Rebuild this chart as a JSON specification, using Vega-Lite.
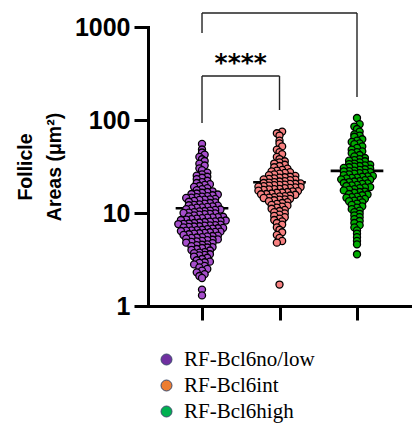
{
  "$schema": "https://vega.github.io/schema/vega-lite/v6.json",
  "autosize": {"type": "none"},
  "padding": {"left": 148, "top": 27, "right": 4, "bottom": 121},
  "width": 262,
  "height": 279,
  "background": "white",
  "datasets": {
    "areas": [
      {"group": "RF-Bcl6no/low", "area": 55.2}, {"group": "RF-Bcl6no/low", "area": 48.1}, {"group": "RF-Bcl6no/low", "area": 44.7},
      {"group": "RF-Bcl6no/low", "area": 42.3}, {"group": "RF-Bcl6no/low", "area": 40.1}, {"group": "RF-Bcl6no/low", "area": 37.8}, {"group": "RF-Bcl6no/low", "area": 36.2}, {"group": "RF-Bcl6no/low", "area": 33.9},
      {"group": "RF-Bcl6no/low", "area": 32.4}, {"group": "RF-Bcl6no/low", "area": 30.2}, {"group": "RF-Bcl6no/low", "area": 28.9}, {"group": "RF-Bcl6no/low", "area": 27.1}, {"group": "RF-Bcl6no/low", "area": 26.0}, {"group": "RF-Bcl6no/low", "area": 25.2},
      {"group": "RF-Bcl6no/low", "area": 24.5}, {"group": "RF-Bcl6no/low", "area": 23.9}, {"group": "RF-Bcl6no/low", "area": 23.1}, {"group": "RF-Bcl6no/low", "area": 22.2}, {"group": "RF-Bcl6no/low", "area": 21.5}, {"group": "RF-Bcl6no/low", "area": 21.0}, {"group": "RF-Bcl6no/low", "area": 20.4}, {"group": "RF-Bcl6no/low", "area": 20.0},
      {"group": "RF-Bcl6no/low", "area": 19.5}, {"group": "RF-Bcl6no/low", "area": 19.1}, {"group": "RF-Bcl6no/low", "area": 18.5}, {"group": "RF-Bcl6no/low", "area": 18.0}, {"group": "RF-Bcl6no/low", "area": 17.6}, {"group": "RF-Bcl6no/low", "area": 17.1}, {"group": "RF-Bcl6no/low", "area": 16.8}, {"group": "RF-Bcl6no/low", "area": 16.5}, {"group": "RF-Bcl6no/low", "area": 16.2}, {"group": "RF-Bcl6no/low", "area": 16.0},
      {"group": "RF-Bcl6no/low", "area": 15.8}, {"group": "RF-Bcl6no/low", "area": 15.5}, {"group": "RF-Bcl6no/low", "area": 15.2}, {"group": "RF-Bcl6no/low", "area": 15.0}, {"group": "RF-Bcl6no/low", "area": 14.8}, {"group": "RF-Bcl6no/low", "area": 14.6}, {"group": "RF-Bcl6no/low", "area": 14.5}, {"group": "RF-Bcl6no/low", "area": 14.2}, {"group": "RF-Bcl6no/low", "area": 14.0}, {"group": "RF-Bcl6no/low", "area": 13.9}, {"group": "RF-Bcl6no/low", "area": 13.8}, {"group": "RF-Bcl6no/low", "area": 13.5}, {"group": "RF-Bcl6no/low", "area": 13.2}, {"group": "RF-Bcl6no/low", "area": 13.0},
      {"group": "RF-Bcl6no/low", "area": 12.8}, {"group": "RF-Bcl6no/low", "area": 12.6}, {"group": "RF-Bcl6no/low", "area": 12.4}, {"group": "RF-Bcl6no/low", "area": 12.2}, {"group": "RF-Bcl6no/low", "area": 12.1}, {"group": "RF-Bcl6no/low", "area": 12.0}, {"group": "RF-Bcl6no/low", "area": 11.8}, {"group": "RF-Bcl6no/low", "area": 11.6}, {"group": "RF-Bcl6no/low", "area": 11.5}, {"group": "RF-Bcl6no/low", "area": 11.4}, {"group": "RF-Bcl6no/low", "area": 11.2}, {"group": "RF-Bcl6no/low", "area": 11.0}, {"group": "RF-Bcl6no/low", "area": 10.9}, {"group": "RF-Bcl6no/low", "area": 10.8}, {"group": "RF-Bcl6no/low", "area": 10.6}, {"group": "RF-Bcl6no/low", "area": 10.5},
      {"group": "RF-Bcl6no/low", "area": 10.4}, {"group": "RF-Bcl6no/low", "area": 10.2}, {"group": "RF-Bcl6no/low", "area": 10.1}, {"group": "RF-Bcl6no/low", "area": 10.0}, {"group": "RF-Bcl6no/low", "area": 9.9}, {"group": "RF-Bcl6no/low", "area": 9.8}, {"group": "RF-Bcl6no/low", "area": 9.7}, {"group": "RF-Bcl6no/low", "area": 9.6}, {"group": "RF-Bcl6no/low", "area": 9.4}, {"group": "RF-Bcl6no/low", "area": 9.2}, {"group": "RF-Bcl6no/low", "area": 9.1}, {"group": "RF-Bcl6no/low", "area": 9.0}, {"group": "RF-Bcl6no/low", "area": 8.95}, {"group": "RF-Bcl6no/low", "area": 8.9}, {"group": "RF-Bcl6no/low", "area": 8.8}, {"group": "RF-Bcl6no/low", "area": 8.7}, {"group": "RF-Bcl6no/low", "area": 8.6}, {"group": "RF-Bcl6no/low", "area": 8.5},
      {"group": "RF-Bcl6no/low", "area": 8.4}, {"group": "RF-Bcl6no/low", "area": 8.3}, {"group": "RF-Bcl6no/low", "area": 8.2}, {"group": "RF-Bcl6no/low", "area": 8.1}, {"group": "RF-Bcl6no/low", "area": 8.05}, {"group": "RF-Bcl6no/low", "area": 8.0}, {"group": "RF-Bcl6no/low", "area": 7.9}, {"group": "RF-Bcl6no/low", "area": 7.8}, {"group": "RF-Bcl6no/low", "area": 7.7}, {"group": "RF-Bcl6no/low", "area": 7.65}, {"group": "RF-Bcl6no/low", "area": 7.6}, {"group": "RF-Bcl6no/low", "area": 7.5}, {"group": "RF-Bcl6no/low", "area": 7.4}, {"group": "RF-Bcl6no/low", "area": 7.35}, {"group": "RF-Bcl6no/low", "area": 7.3}, {"group": "RF-Bcl6no/low", "area": 7.2}, {"group": "RF-Bcl6no/low", "area": 7.15}, {"group": "RF-Bcl6no/low", "area": 7.1}, {"group": "RF-Bcl6no/low", "area": 7.0},
      {"group": "RF-Bcl6no/low", "area": 6.9}, {"group": "RF-Bcl6no/low", "area": 6.85}, {"group": "RF-Bcl6no/low", "area": 6.8}, {"group": "RF-Bcl6no/low", "area": 6.7}, {"group": "RF-Bcl6no/low", "area": 6.6}, {"group": "RF-Bcl6no/low", "area": 6.55}, {"group": "RF-Bcl6no/low", "area": 6.5}, {"group": "RF-Bcl6no/low", "area": 6.45}, {"group": "RF-Bcl6no/low", "area": 6.4}, {"group": "RF-Bcl6no/low", "area": 6.3}, {"group": "RF-Bcl6no/low", "area": 6.25}, {"group": "RF-Bcl6no/low", "area": 6.2}, {"group": "RF-Bcl6no/low", "area": 6.1}, {"group": "RF-Bcl6no/low", "area": 6.05}, {"group": "RF-Bcl6no/low", "area": 6.0}, {"group": "RF-Bcl6no/low", "area": 5.9}, {"group": "RF-Bcl6no/low", "area": 5.8},
      {"group": "RF-Bcl6no/low", "area": 5.7}, {"group": "RF-Bcl6no/low", "area": 5.65}, {"group": "RF-Bcl6no/low", "area": 5.6}, {"group": "RF-Bcl6no/low", "area": 5.5}, {"group": "RF-Bcl6no/low", "area": 5.45}, {"group": "RF-Bcl6no/low", "area": 5.4}, {"group": "RF-Bcl6no/low", "area": 5.3}, {"group": "RF-Bcl6no/low", "area": 5.2}, {"group": "RF-Bcl6no/low", "area": 5.15}, {"group": "RF-Bcl6no/low", "area": 5.1}, {"group": "RF-Bcl6no/low", "area": 5.0}, {"group": "RF-Bcl6no/low", "area": 4.95}, {"group": "RF-Bcl6no/low", "area": 4.9}, {"group": "RF-Bcl6no/low", "area": 4.8},
      {"group": "RF-Bcl6no/low", "area": 4.75}, {"group": "RF-Bcl6no/low", "area": 4.6}, {"group": "RF-Bcl6no/low", "area": 4.55}, {"group": "RF-Bcl6no/low", "area": 4.5}, {"group": "RF-Bcl6no/low", "area": 4.4}, {"group": "RF-Bcl6no/low", "area": 4.3}, {"group": "RF-Bcl6no/low", "area": 4.25}, {"group": "RF-Bcl6no/low", "area": 4.2}, {"group": "RF-Bcl6no/low", "area": 4.1}, {"group": "RF-Bcl6no/low", "area": 4.0},
      {"group": "RF-Bcl6no/low", "area": 3.95}, {"group": "RF-Bcl6no/low", "area": 3.8}, {"group": "RF-Bcl6no/low", "area": 3.75}, {"group": "RF-Bcl6no/low", "area": 3.7}, {"group": "RF-Bcl6no/low", "area": 3.6}, {"group": "RF-Bcl6no/low", "area": 3.55}, {"group": "RF-Bcl6no/low", "area": 3.5}, {"group": "RF-Bcl6no/low", "area": 3.4}, {"group": "RF-Bcl6no/low", "area": 3.3},
      {"group": "RF-Bcl6no/low", "area": 3.2}, {"group": "RF-Bcl6no/low", "area": 3.1}, {"group": "RF-Bcl6no/low", "area": 3.0}, {"group": "RF-Bcl6no/low", "area": 2.95}, {"group": "RF-Bcl6no/low", "area": 2.9}, {"group": "RF-Bcl6no/low", "area": 2.8}, {"group": "RF-Bcl6no/low", "area": 2.7}, {"group": "RF-Bcl6no/low", "area": 2.6},
      {"group": "RF-Bcl6no/low", "area": 2.5}, {"group": "RF-Bcl6no/low", "area": 2.4}, {"group": "RF-Bcl6no/low", "area": 2.3}, {"group": "RF-Bcl6no/low", "area": 2.2}, {"group": "RF-Bcl6no/low", "area": 2.1}, {"group": "RF-Bcl6no/low", "area": 2.0},
      {"group": "RF-Bcl6no/low", "area": 1.5}, {"group": "RF-Bcl6no/low", "area": 1.3},

      {"group": "RF-Bcl6int", "area": 75.0}, {"group": "RF-Bcl6int", "area": 72.0}, {"group": "RF-Bcl6int", "area": 68.0}, {"group": "RF-Bcl6int", "area": 60.0}, {"group": "RF-Bcl6int", "area": 56.0}, {"group": "RF-Bcl6int", "area": 52.0},
      {"group": "RF-Bcl6int", "area": 48.0}, {"group": "RF-Bcl6int", "area": 45.0}, {"group": "RF-Bcl6int", "area": 43.0}, {"group": "RF-Bcl6int", "area": 40.0}, {"group": "RF-Bcl6int", "area": 38.0}, {"group": "RF-Bcl6int", "area": 36.0}, {"group": "RF-Bcl6int", "area": 35.0}, {"group": "RF-Bcl6int", "area": 34.0}, {"group": "RF-Bcl6int", "area": 33.0}, {"group": "RF-Bcl6int", "area": 32.0}, {"group": "RF-Bcl6int", "area": 31.0}, {"group": "RF-Bcl6int", "area": 30.0},
      {"group": "RF-Bcl6int", "area": 29.0}, {"group": "RF-Bcl6int", "area": 28.5}, {"group": "RF-Bcl6int", "area": 28.0}, {"group": "RF-Bcl6int", "area": 27.5}, {"group": "RF-Bcl6int", "area": 27.0}, {"group": "RF-Bcl6int", "area": 26.5}, {"group": "RF-Bcl6int", "area": 26.0}, {"group": "RF-Bcl6int", "area": 25.5}, {"group": "RF-Bcl6int", "area": 25.0}, {"group": "RF-Bcl6int", "area": 24.5}, {"group": "RF-Bcl6int", "area": 24.2}, {"group": "RF-Bcl6int", "area": 24.0}, {"group": "RF-Bcl6int", "area": 23.5}, {"group": "RF-Bcl6int", "area": 23.2}, {"group": "RF-Bcl6int", "area": 23.0}, {"group": "RF-Bcl6int", "area": 22.8}, {"group": "RF-Bcl6int", "area": 22.5},
      {"group": "RF-Bcl6int", "area": 22.0}, {"group": "RF-Bcl6int", "area": 21.8}, {"group": "RF-Bcl6int", "area": 21.5}, {"group": "RF-Bcl6int", "area": 21.2}, {"group": "RF-Bcl6int", "area": 21.0}, {"group": "RF-Bcl6int", "area": 20.8}, {"group": "RF-Bcl6int", "area": 20.6}, {"group": "RF-Bcl6int", "area": 20.5}, {"group": "RF-Bcl6int", "area": 20.2}, {"group": "RF-Bcl6int", "area": 20.0}, {"group": "RF-Bcl6int", "area": 19.9}, {"group": "RF-Bcl6int", "area": 19.7}, {"group": "RF-Bcl6int", "area": 19.4}, {"group": "RF-Bcl6int", "area": 19.2}, {"group": "RF-Bcl6int", "area": 19.0}, {"group": "RF-Bcl6int", "area": 18.8}, {"group": "RF-Bcl6int", "area": 18.6}, {"group": "RF-Bcl6int", "area": 18.5}, {"group": "RF-Bcl6int", "area": 18.2}, {"group": "RF-Bcl6int", "area": 18.0}, {"group": "RF-Bcl6int", "area": 17.9}, {"group": "RF-Bcl6int", "area": 17.7},
      {"group": "RF-Bcl6int", "area": 17.4}, {"group": "RF-Bcl6int", "area": 17.2}, {"group": "RF-Bcl6int", "area": 17.1}, {"group": "RF-Bcl6int", "area": 16.8}, {"group": "RF-Bcl6int", "area": 16.6}, {"group": "RF-Bcl6int", "area": 16.5}, {"group": "RF-Bcl6int", "area": 16.2}, {"group": "RF-Bcl6int", "area": 16.0}, {"group": "RF-Bcl6int", "area": 15.9}, {"group": "RF-Bcl6int", "area": 15.7}, {"group": "RF-Bcl6int", "area": 15.4}, {"group": "RF-Bcl6int", "area": 15.2}, {"group": "RF-Bcl6int", "area": 15.1}, {"group": "RF-Bcl6int", "area": 14.8}, {"group": "RF-Bcl6int", "area": 14.6}, {"group": "RF-Bcl6int", "area": 14.5}, {"group": "RF-Bcl6int", "area": 14.2}, {"group": "RF-Bcl6int", "area": 14.0}, {"group": "RF-Bcl6int", "area": 13.9}, {"group": "RF-Bcl6int", "area": 13.7},
      {"group": "RF-Bcl6int", "area": 13.4}, {"group": "RF-Bcl6int", "area": 13.1}, {"group": "RF-Bcl6int", "area": 12.8}, {"group": "RF-Bcl6int", "area": 12.5}, {"group": "RF-Bcl6int", "area": 12.2}, {"group": "RF-Bcl6int", "area": 12.0}, {"group": "RF-Bcl6int", "area": 11.7}, {"group": "RF-Bcl6int", "area": 11.4}, {"group": "RF-Bcl6int", "area": 11.1}, {"group": "RF-Bcl6int", "area": 10.8},
      {"group": "RF-Bcl6int", "area": 10.5}, {"group": "RF-Bcl6int", "area": 10.2}, {"group": "RF-Bcl6int", "area": 9.9}, {"group": "RF-Bcl6int", "area": 9.6}, {"group": "RF-Bcl6int", "area": 9.3}, {"group": "RF-Bcl6int", "area": 9.0}, {"group": "RF-Bcl6int", "area": 8.7}, {"group": "RF-Bcl6int", "area": 8.4}, {"group": "RF-Bcl6int", "area": 8.1}, {"group": "RF-Bcl6int", "area": 7.8},
      {"group": "RF-Bcl6int", "area": 7.5}, {"group": "RF-Bcl6int", "area": 7.0}, {"group": "RF-Bcl6int", "area": 6.6}, {"group": "RF-Bcl6int", "area": 6.2}, {"group": "RF-Bcl6int", "area": 5.8}, {"group": "RF-Bcl6int", "area": 5.4}, {"group": "RF-Bcl6int", "area": 5.0}, {"group": "RF-Bcl6int", "area": 4.8},
      {"group": "RF-Bcl6int", "area": 1.7},

      {"group": "RF-Bcl6high", "area": 105.0}, {"group": "RF-Bcl6high", "area": 90.0}, {"group": "RF-Bcl6high", "area": 85.0}, {"group": "RF-Bcl6high", "area": 80.0},
      {"group": "RF-Bcl6high", "area": 75.0}, {"group": "RF-Bcl6high", "area": 70.0}, {"group": "RF-Bcl6high", "area": 68.0}, {"group": "RF-Bcl6high", "area": 66.0}, {"group": "RF-Bcl6high", "area": 62.0}, {"group": "RF-Bcl6high", "area": 60.0}, {"group": "RF-Bcl6high", "area": 58.0}, {"group": "RF-Bcl6high", "area": 56.0}, {"group": "RF-Bcl6high", "area": 55.0}, {"group": "RF-Bcl6high", "area": 52.0}, {"group": "RF-Bcl6high", "area": 50.0}, {"group": "RF-Bcl6high", "area": 48.0}, {"group": "RF-Bcl6high", "area": 46.0}, {"group": "RF-Bcl6high", "area": 45.0}, {"group": "RF-Bcl6high", "area": 44.0},
      {"group": "RF-Bcl6high", "area": 42.0}, {"group": "RF-Bcl6high", "area": 40.5}, {"group": "RF-Bcl6high", "area": 39.0}, {"group": "RF-Bcl6high", "area": 38.0}, {"group": "RF-Bcl6high", "area": 37.0}, {"group": "RF-Bcl6high", "area": 36.5}, {"group": "RF-Bcl6high", "area": 36.0}, {"group": "RF-Bcl6high", "area": 35.0}, {"group": "RF-Bcl6high", "area": 34.0}, {"group": "RF-Bcl6high", "area": 33.5}, {"group": "RF-Bcl6high", "area": 33.0}, {"group": "RF-Bcl6high", "area": 32.5}, {"group": "RF-Bcl6high", "area": 32.0}, {"group": "RF-Bcl6high", "area": 31.5}, {"group": "RF-Bcl6high", "area": 31.0}, {"group": "RF-Bcl6high", "area": 30.5}, {"group": "RF-Bcl6high", "area": 30.0},
      {"group": "RF-Bcl6high", "area": 29.5}, {"group": "RF-Bcl6high", "area": 29.0}, {"group": "RF-Bcl6high", "area": 28.5}, {"group": "RF-Bcl6high", "area": 28.2}, {"group": "RF-Bcl6high", "area": 28.0}, {"group": "RF-Bcl6high", "area": 27.5}, {"group": "RF-Bcl6high", "area": 27.0}, {"group": "RF-Bcl6high", "area": 26.8}, {"group": "RF-Bcl6high", "area": 26.5}, {"group": "RF-Bcl6high", "area": 26.0}, {"group": "RF-Bcl6high", "area": 25.5}, {"group": "RF-Bcl6high", "area": 25.0}, {"group": "RF-Bcl6high", "area": 24.8}, {"group": "RF-Bcl6high", "area": 24.5}, {"group": "RF-Bcl6high", "area": 24.0}, {"group": "RF-Bcl6high", "area": 23.8}, {"group": "RF-Bcl6high", "area": 23.5}, {"group": "RF-Bcl6high", "area": 23.0}, {"group": "RF-Bcl6high", "area": 22.8}, {"group": "RF-Bcl6high", "area": 22.5}, {"group": "RF-Bcl6high", "area": 22.0},
      {"group": "RF-Bcl6high", "area": 21.8}, {"group": "RF-Bcl6high", "area": 21.5}, {"group": "RF-Bcl6high", "area": 21.0}, {"group": "RF-Bcl6high", "area": 20.8}, {"group": "RF-Bcl6high", "area": 20.5}, {"group": "RF-Bcl6high", "area": 20.0}, {"group": "RF-Bcl6high", "area": 19.8}, {"group": "RF-Bcl6high", "area": 19.5}, {"group": "RF-Bcl6high", "area": 19.0}, {"group": "RF-Bcl6high", "area": 18.8}, {"group": "RF-Bcl6high", "area": 18.5}, {"group": "RF-Bcl6high", "area": 18.0}, {"group": "RF-Bcl6high", "area": 17.8}, {"group": "RF-Bcl6high", "area": 17.5}, {"group": "RF-Bcl6high", "area": 17.0}, {"group": "RF-Bcl6high", "area": 16.8}, {"group": "RF-Bcl6high", "area": 16.5}, {"group": "RF-Bcl6high", "area": 16.0}, {"group": "RF-Bcl6high", "area": 15.8}, {"group": "RF-Bcl6high", "area": 15.5}, {"group": "RF-Bcl6high", "area": 15.0},
      {"group": "RF-Bcl6high", "area": 14.8}, {"group": "RF-Bcl6high", "area": 14.6}, {"group": "RF-Bcl6high", "area": 14.2}, {"group": "RF-Bcl6high", "area": 13.8}, {"group": "RF-Bcl6high", "area": 13.6}, {"group": "RF-Bcl6high", "area": 13.4}, {"group": "RF-Bcl6high", "area": 13.0}, {"group": "RF-Bcl6high", "area": 12.6}, {"group": "RF-Bcl6high", "area": 12.2}, {"group": "RF-Bcl6high", "area": 11.8},
      {"group": "RF-Bcl6high", "area": 11.4}, {"group": "RF-Bcl6high", "area": 11.0}, {"group": "RF-Bcl6high", "area": 10.6}, {"group": "RF-Bcl6high", "area": 10.2}, {"group": "RF-Bcl6high", "area": 9.8}, {"group": "RF-Bcl6high", "area": 9.4}, {"group": "RF-Bcl6high", "area": 9.0}, {"group": "RF-Bcl6high", "area": 8.6}, {"group": "RF-Bcl6high", "area": 8.2}, {"group": "RF-Bcl6high", "area": 7.8},
      {"group": "RF-Bcl6high", "area": 7.4}, {"group": "RF-Bcl6high", "area": 7.0}, {"group": "RF-Bcl6high", "area": 6.5}, {"group": "RF-Bcl6high", "area": 6.0}, {"group": "RF-Bcl6high", "area": 5.5}, {"group": "RF-Bcl6high", "area": 5.0}, {"group": "RF-Bcl6high", "area": 4.6},
      {"group": "RF-Bcl6high", "area": 3.6}
    ],
    "comparisons": [
      {"from": "RF-Bcl6no/low", "to": "RF-Bcl6high", "top": 1415, "fromEnd": 862, "toEnd": 177, "label": ""},
      {"from": "RF-Bcl6no/low", "to": "RF-Bcl6int", "top": 297, "fromEnd": 93, "toEnd": 128, "label": "****"}
    ]
  },
  "layer": [
    {
      "data": {"name": "comparisons"},
      "transform": [
        {"calculate": "indexof(['RF-Bcl6no/low','RF-Bcl6int','RF-Bcl6high'], datum.from) + 1", "as": "fi"},
        {"calculate": "indexof(['RF-Bcl6no/low','RF-Bcl6int','RF-Bcl6high'], datum.to) + 1", "as": "ti"},
        {"calculate": "(datum.fi + datum.ti) / 2", "as": "mid"}
      ],
      "layer": [
        {
          "mark": {"type": "rule", "color": "#222222", "strokeWidth": 1.4},
          "encoding": {
            "x": {"field": "fi", "type": "quantitative", "scale": {"domain": [0.303, 3.684], "zero": false, "nice": false}},
            "x2": {"field": "ti"},
            "y": {"field": "top", "type": "quantitative", "scale": {"type": "log", "domain": [1, 1000], "nice": false}}
          }
        },
        {
          "mark": {"type": "rule", "color": "#222222", "strokeWidth": 1.4},
          "encoding": {
            "x": {"field": "fi", "type": "quantitative", "scale": {"domain": [0.303, 3.684], "zero": false, "nice": false}},
            "y": {"field": "top", "type": "quantitative", "scale": {"type": "log", "domain": [1, 1000], "nice": false}},
            "y2": {"field": "fromEnd"}
          }
        },
        {
          "mark": {"type": "rule", "color": "#222222", "strokeWidth": 1.4},
          "encoding": {
            "x": {"field": "ti", "type": "quantitative", "scale": {"domain": [0.303, 3.684], "zero": false, "nice": false}},
            "y": {"field": "top", "type": "quantitative", "scale": {"type": "log", "domain": [1, 1000], "nice": false}},
            "y2": {"field": "toEnd"}
          }
        },
        {
          "mark": {"type": "text", "font": "DejaVu Sans", "fontWeight": "bold", "fontSize": 25, "baseline": "alphabetic", "align": "center", "dy": -5, "color": "black"},
          "encoding": {
            "x": {"field": "mid", "type": "quantitative", "scale": {"domain": [0.303, 3.684], "zero": false, "nice": false}},
            "y": {"field": "top", "type": "quantitative", "scale": {"type": "log", "domain": [1, 1000], "nice": false}},
            "text": {"field": "label"}
          }
        }
      ]
    },
    {
      "data": {"name": "areas"},
      "transform": [
        {"aggregate": [{"op": "mean", "field": "area", "as": "mean"}, {"op": "stderr", "field": "area", "as": "se"}], "groupby": ["group"]},
        {"calculate": "indexof(['RF-Bcl6no/low','RF-Bcl6int','RF-Bcl6high'], datum.group) + 1", "as": "idx"},
        {"calculate": "datum.idx - 0.34", "as": "lo"},
        {"calculate": "datum.idx + 0.34", "as": "hi"},
        {"calculate": "datum.idx - 0.2", "as": "capLo"},
        {"calculate": "datum.idx + 0.2", "as": "capHi"},
        {"calculate": "datum.mean - datum.se", "as": "meanLow"},
        {"calculate": "datum.mean + datum.se", "as": "meanHigh"}
      ],
      "layer": [
        {
          "mark": {"type": "rule", "color": "black", "strokeWidth": 2.6},
          "encoding": {
            "x": {"field": "lo", "type": "quantitative", "scale": {"domain": [0.303, 3.684], "zero": false, "nice": false}},
            "x2": {"field": "hi"},
            "y": {"field": "mean", "type": "quantitative", "scale": {"type": "log", "domain": [1, 1000], "nice": false}}
          }
        },
        {
          "mark": {"type": "rule", "color": "black", "strokeWidth": 2},
          "encoding": {
            "x": {"field": "capLo", "type": "quantitative", "scale": {"domain": [0.303, 3.684], "zero": false, "nice": false}},
            "x2": {"field": "capHi"},
            "y": {"field": "meanLow", "type": "quantitative", "scale": {"type": "log", "domain": [1, 1000], "nice": false}}
          }
        },
        {
          "mark": {"type": "rule", "color": "black", "strokeWidth": 2},
          "encoding": {
            "x": {"field": "capLo", "type": "quantitative", "scale": {"domain": [0.303, 3.684], "zero": false, "nice": false}},
            "x2": {"field": "capHi"},
            "y": {"field": "meanHigh", "type": "quantitative", "scale": {"type": "log", "domain": [1, 1000], "nice": false}}
          }
        },
        {
          "mark": {"type": "point", "filled": true, "opacity": 0},
          "encoding": {
            "x": {"field": "idx", "type": "quantitative", "scale": {"domain": [0.303, 3.684], "zero": false, "nice": false}},
            "y": {"field": "mean", "type": "quantitative", "scale": {"type": "log", "domain": [1, 1000], "nice": false}},
            "color": {
              "field": "group",
              "type": "nominal",
              "scale": {"domain": ["RF-Bcl6no/low", "RF-Bcl6int", "RF-Bcl6high"], "range": ["#7030A0", "#ED7D31", "#00B050"]},
              "legend": {
                "title": null,
                "orient": "none",
                "legendX": 8,
                "legendY": 322,
                "padding": 0,
                "symbolType": "circle",
                "symbolSize": 120,
                "symbolStrokeColor": "#3B4A6B",
                "symbolStrokeWidth": 1,
                "symbolOpacity": 1,
                "labelFont": "Liberation Serif",
                "labelFontSize": 21,
                "labelColor": "black",
                "labelOffset": 7,
                "labelLimit": 300,
                "rowPadding": 4
              }
            }
          }
        }
      ]
    },
    {
      "data": {"name": "areas"},
      "transform": [
        {"calculate": "indexof(['RF-Bcl6no/low','RF-Bcl6int','RF-Bcl6high'], datum.group) + 1", "as": "idx"},
        {"calculate": "floor(log(datum.area) / LN10 / 0.04)", "as": "band"},
        {"joinaggregate": [{"op": "count", "as": "n"}], "groupby": ["group", "band"]},
        {"window": [{"op": "row_number", "as": "k"}], "groupby": ["group", "band"], "sort": [{"field": "area", "order": "ascending"}]},
        {"calculate": "datum.idx + (datum.k - 1 - (datum.n - 1) / 2) * 0.068", "as": "xpos"}
      ],
      "mark": {"type": "point", "filled": true, "size": 50, "stroke": "black", "strokeWidth": 1.3, "opacity": 1},
      "encoding": {
        "x": {
          "field": "xpos",
          "type": "quantitative",
          "scale": {"domain": [0.303, 3.684], "zero": false, "nice": false},
          "axis": {"values": [1, 2, 3], "labels": false, "title": null, "grid": false}
        },
        "y": {
          "field": "area",
          "type": "quantitative",
          "scale": {"type": "log", "domain": [1, 1000], "nice": false},
          "axis": {
            "values": [1, 10, 100, 1000],
            "format": "d",
            "title": ["Follicle", "Areas (μm²)"],
            "titleFontSize": 19.5,
            "titleLineHeight": 29,
            "titlePadding": 10,
            "grid": false
          }
        },
        "fill": {
          "field": "group",
          "type": "nominal",
          "scale": {"domain": ["RF-Bcl6no/low", "RF-Bcl6int", "RF-Bcl6high"], "range": ["#A64ECC", "#F78080", "#00AD00"]},
          "legend": null
        }
      }
    }
  ],
  "config": {
    "view": {"stroke": null},
    "axisX": {
      "domainColor": "black", "domainWidth": 3, "domainCap": "square",
      "tickColor": "black", "tickWidth": 3, "tickSize": 14, "grid": false
    },
    "axisY": {
      "domainColor": "black", "domainWidth": 3, "domainCap": "square",
      "tickColor": "black", "tickWidth": 3, "tickSize": 14, "grid": false,
      "labelFont": "Liberation Sans", "labelFontSize": 25, "labelFontWeight": "bold", "labelColor": "black",
      "labelPadding": 4, "labelFlush": false, "labelOverlap": false,
      "titleFont": "Liberation Sans", "titleFontWeight": "bold", "titleColor": "black"
    }
  }
}
